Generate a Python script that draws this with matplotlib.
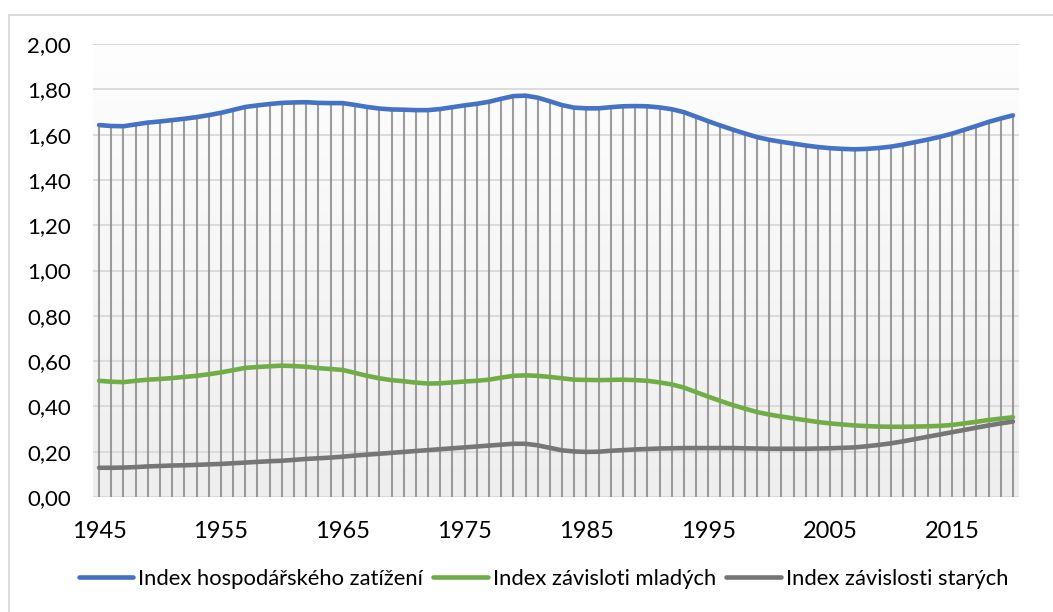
import matplotlib.pyplot as plt
import matplotlib.lines as mlines
import matplotlib.colors as mcolors
import numpy as np

years = list(range(1945, 2021))

# Index hospodářského zatížení
econ_load = [
    1.642, 1.638, 1.637, 1.645, 1.653, 1.658, 1.664, 1.670, 1.677, 1.686,
    1.696, 1.709, 1.722, 1.729, 1.735, 1.740, 1.742, 1.743, 1.740, 1.739,
    1.739, 1.731, 1.722, 1.715, 1.711, 1.710, 1.708, 1.708, 1.713, 1.721,
    1.729, 1.736, 1.745, 1.758, 1.770, 1.772, 1.763, 1.747, 1.730, 1.719,
    1.716, 1.716, 1.721, 1.725, 1.726, 1.725, 1.720, 1.712, 1.699, 1.679,
    1.659, 1.640, 1.622, 1.605, 1.589, 1.577, 1.568, 1.560, 1.552, 1.545,
    1.540, 1.537, 1.535, 1.537, 1.541, 1.547, 1.556, 1.567, 1.578, 1.590,
    1.604, 1.621, 1.638, 1.656, 1.671, 1.685,
]

# Index závislosti mladých
young = [
    0.513, 0.509, 0.507, 0.513, 0.518, 0.521, 0.525, 0.530, 0.535, 0.542,
    0.550, 0.560, 0.570, 0.574, 0.577, 0.580, 0.578, 0.575, 0.569, 0.565,
    0.561, 0.548, 0.535, 0.524, 0.516, 0.511, 0.505, 0.501, 0.502, 0.506,
    0.510, 0.513, 0.518, 0.527, 0.535, 0.537, 0.535, 0.530, 0.524, 0.518,
    0.517, 0.516, 0.517, 0.518, 0.516, 0.513, 0.506, 0.497, 0.483, 0.463,
    0.443, 0.424, 0.406, 0.390, 0.375, 0.364, 0.355, 0.347, 0.339, 0.331,
    0.325, 0.320, 0.316, 0.313, 0.311, 0.310, 0.310, 0.311, 0.312, 0.314,
    0.318, 0.325, 0.332, 0.340, 0.346, 0.352,
]

# Index závislosti starých
old = [
    0.129, 0.129, 0.130, 0.132, 0.135, 0.137, 0.139, 0.140, 0.142, 0.144,
    0.146, 0.149, 0.152, 0.155, 0.158, 0.160, 0.164, 0.168, 0.171, 0.174,
    0.178, 0.183, 0.187, 0.191, 0.195, 0.199, 0.203, 0.207, 0.211, 0.215,
    0.219, 0.223, 0.227, 0.231, 0.235, 0.235, 0.228, 0.217, 0.206, 0.201,
    0.199, 0.200, 0.204, 0.207, 0.210, 0.212, 0.214, 0.215, 0.216, 0.216,
    0.216, 0.216, 0.216, 0.215, 0.214, 0.213, 0.213, 0.213, 0.213, 0.214,
    0.215, 0.217, 0.219, 0.224, 0.230, 0.237, 0.246, 0.256, 0.266, 0.276,
    0.286, 0.296, 0.306, 0.316, 0.325, 0.333,
]

labels = ["Index hospodářského zatížení", "Index závisloti mladých",
          "Index závislosti starých"]
colors = ["#4472C4", "#70AD47", "#767676"]
y_ticks = [0.0, 0.2, 0.4, 0.6, 0.8, 1.0, 1.2, 1.4, 1.6, 1.8, 2.0]
x_ticks = list(range(1945, 2021, 10))

plt.rcParams['font.family'] = ['Lato', 'DejaVu Sans']

fig = plt.figure(figsize=(10.53, 6.12), dpi=100)
ax = fig.add_axes([93 / 1053, 1 - 497 / 612, 926 / 1053, 453 / 612])
ax.set_xlim(1944.5, 2020.5)
ax.set_ylim(0, 2.0)

# plot area fill: light grey at the bottom fading to white at the top
grad = np.linspace(0, 1, 256).reshape(-1, 1)
bg = mcolors.LinearSegmentedColormap.from_list('bg', ['#eeeeee', '#fefefe'])
ax.imshow(grad, extent=[1944.5, 2020.5, 0, 2.0], aspect='auto', cmap=bg,
          origin='lower', zorder=0)

for y in y_ticks:
    ax.axhline(y, color='#d9d9d9', lw=1.3, zorder=1)

# drop lines from the top series
ax.vlines(years, 0, econ_load, color='#8c8c8c', lw=1.5, alpha=0.85, zorder=2)

for vals, c, lab in zip([econ_load, young, old], colors, labels):
    ax.plot(years, vals, color=c, lw=3.3, label=lab, zorder=3,
            solid_capstyle='round', solid_joinstyle='round')

for s in ax.spines.values():
    s.set_visible(False)
ax.set_yticks(y_ticks)
ax.set_yticklabels([f"{v:.2f}".replace('.', ',') for v in y_ticks])
ax.set_xticks(x_ticks)
ax.set_xticklabels([str(x) for x in x_ticks])
ax.tick_params(axis='both', length=0, labelsize=16, colors='#000000')
ax.tick_params(axis='x', labelsize=17, pad=17)
ax.tick_params(axis='y', pad=16)

# chart border (only left and top edge are inside the picture)
fig.add_artist(mlines.Line2D([8.5 / 1053, 8.5 / 1053], [0, 1 - 15 / 612],
                             transform=fig.transFigure, color='#d9d9d9', lw=1.3))
fig.add_artist(mlines.Line2D([8.5 / 1053, 1], [1 - 15 / 612, 1 - 15 / 612],
                             transform=fig.transFigure, color='#d9d9d9', lw=1.3))

fig.legend(loc='center', bbox_to_anchor=(0.516, 1 - 579 / 612), ncol=3,
           frameon=False, fontsize=15.8, handlelength=2.5, handletextpad=0.22,
           columnspacing=0.45)

fig.savefig('out.png', dpi=100, facecolor='white')
